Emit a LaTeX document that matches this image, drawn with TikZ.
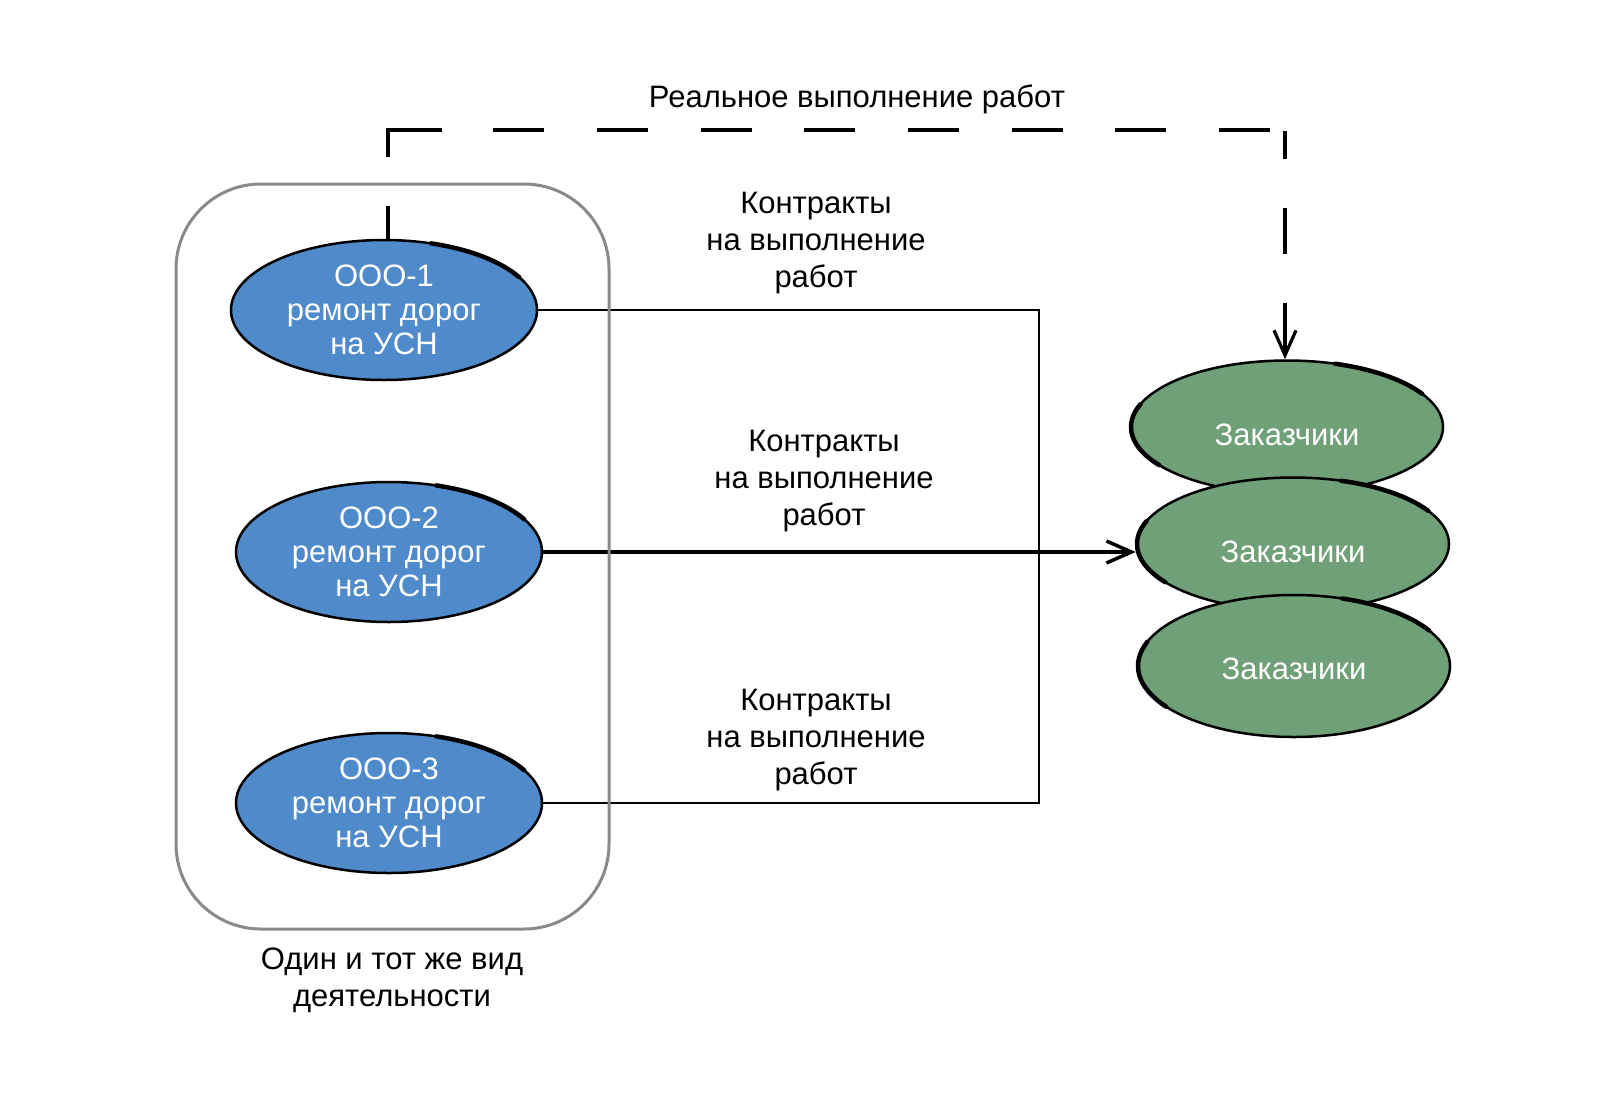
\documentclass[tikz,border=0pt]{standalone}
\usepackage{fontspec}
\setmainfont{Liberation Sans}
\usetikzlibrary{shapes.geometric,arrows.meta}
\definecolor{blueF}{HTML}{4F8ACB}
\definecolor{greenF}{HTML}{6FA077}
\definecolor{boxgray}{HTML}{8A8A8A}
\begin{document}
\begin{tikzpicture}[x=1pt,y=-1pt,
  every node/.style={font=\fontsize{31}{34}\selectfont},
  org/.style={ellipse, draw=black, line width=2.5pt, fill=blueF, text=white,
    minimum width=306pt, minimum height=140pt, inner sep=0pt, align=center},
  cust/.style={ellipse, draw=black, line width=2.5pt, fill=greenF, text=white,
    minimum width=312pt, minimum height=133pt, inner sep=0pt,
    text height=36pt, text depth=0pt},
  lbl/.style={align=center, font=\fontsize{31}{37}\selectfont},
  conn/.style={line width=2.5pt, black},
  sketch/.style={line width=4.5pt, black, line cap=round},
  barb/.style={-{Straight Barb[length=25pt,width=22pt]}}
]
\useasboundingbox (0,0) rectangle (1600,1100);
\fill[white] (0,0) rectangle (1600,1100);

% organisations
\node[org] (o1) at (384,310) {ООО-1\\ремонт дорог\\на УСН};
\node[org] (o2) at (389,552) {ООО-2\\ремонт дорог\\на УСН};
\node[org] (o3) at (389,803) {ООО-3\\ремонт дорог\\на УСН};

% customers
\node[cust] (c1) at (1287,427) {Заказчики};
\node[cust] (c2) at (1293,544) {Заказчики};
\node[cust, minimum height=142pt, text height=26pt] (c3) at (1294,666) {Заказчики};

% sketchy strokes
\foreach \n in {o1,o2,o3}{
  \draw[sketch] (\n.center) ++(72:153pt and 70pt) arc[start angle=72, end angle=28, x radius=153pt, y radius=70pt];
}
\draw[sketch] (c1.center) ++(72:156pt and 66.5pt) arc[start angle=72, end angle=30, x radius=156pt, y radius=66.5pt];
\draw[sketch] (c1.center) ++(160:156pt and 66.5pt) arc[start angle=160, end angle=215, x radius=156pt, y radius=66.5pt];
\draw[sketch] (c2.center) ++(72:156pt and 66.5pt) arc[start angle=72, end angle=30, x radius=156pt, y radius=66.5pt];
\draw[sketch] (c2.center) ++(160:156pt and 66.5pt) arc[start angle=160, end angle=215, x radius=156pt, y radius=66.5pt];
\draw[sketch] (c3.center) ++(72:156pt and 71pt) arc[start angle=72, end angle=30, x radius=156pt, y radius=71pt];
\draw[sketch] (c3.center) ++(160:156pt and 71pt) arc[start angle=160, end angle=215, x radius=156pt, y radius=71pt];

% contract lines
\coordinate (bx) at (1039,550);
\draw[conn] (o1.east) -- (o1.east -| bx) -- (o3.east -| bx) -- (o3.east);
\draw[conn, line width=3.5pt, barb] (o2.east) -- (o2.east -| c2.west);

% dashed real-work line
\coordinate (dl) at (388,130);
\coordinate (dr) at (1285,130);
\draw[line width=3.2pt, barb,
  dash pattern=on 33pt off 49pt on 81pt off 51pt
    on 51pt off 52.7pt on 51pt off 52.7pt on 51pt off 52.7pt on 51pt off 52.7pt
    on 51pt off 52.7pt on 51pt off 52.7pt on 51pt off 52.7pt
    on 51pt off 16pt on 28pt off 49pt on 46pt off 49pt on 120pt off 10pt]
  (o1.north -| dl) -- (dl) -- (dr) -- (dr |- c1.north);

% group box (drawn over the connectors)
\node[draw=boxgray, line width=3pt, rounded corners=85pt,
      minimum width=433pt, minimum height=745pt, inner sep=0pt] (grp) at (392.5,556.5) {};

% labels
\node (title) at (857,99) {Реальное выполнение работ};
\node[lbl] (k1) at (816,243) {Контракты\\на выполнение\\работ};
\node[lbl] (k2) at (824,481) {Контракты\\на выполнение\\работ};
\node[lbl] (k3) at (816,740) {Контракты\\на выполнение\\работ};
\node[lbl] (note) at (392,980) {Один и тот же вид\\деятельности};
\end{tikzpicture}
\end{document}
